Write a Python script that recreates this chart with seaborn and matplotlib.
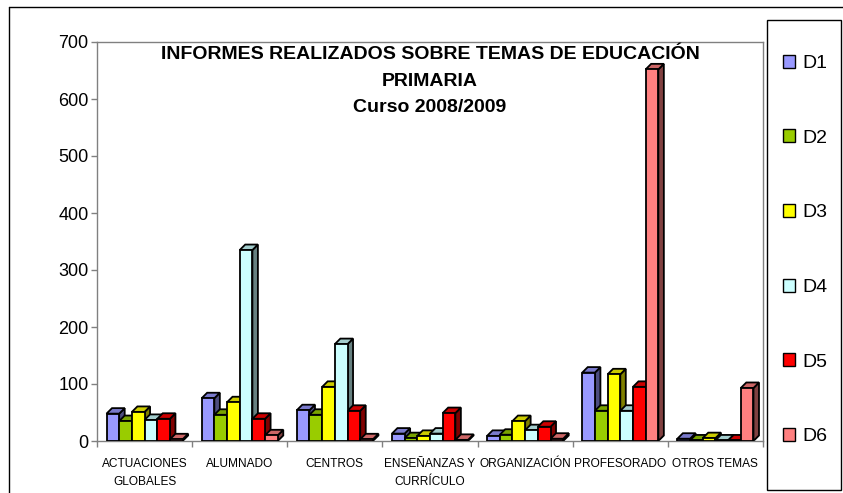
import numpy as np
import pandas as pd
import seaborn as sns
import matplotlib.pyplot as plt
from matplotlib.patches import Patch, Polygon, Rectangle
from matplotlib.lines import Line2D
from matplotlib.colors import to_rgb

# data
temas = ["ACTUACIONES\nGLOBALES", "ALUMNADO", "CENTROS", "ENSEÑANZAS Y\nCURRÍCULO",
         "ORGANIZACIÓN", "PROFESORADO", "OTROS TEMAS"]
series = ["D1", "D2", "D3", "D4", "D5", "D6"]
d1 = [48, 75, 54, 13, 9, 120, 4]
d2 = [35, 46, 46, 5, 11, 53, 1]
d3 = [51, 68, 95, 9, 35, 117, 5]
d4 = [37, 335, 170, 13, 19, 53, 1]
d5 = [39, 39, 53, 49, 25, 95, 1]
d6 = [3, 10, 3, 2, 4, 652, 93]
colores = ["#9999FF", "#99CC00", "#FFFF00", "#CCFFFF", "#FF0000", "#FF8080"]

df = pd.DataFrame({"tema": temas * 6,
                   "serie": np.repeat(series, len(temas)),
                   "n": d1 + d2 + d3 + d4 + d5 + d6})

sns.set_style("white")
plt.rcParams["font.family"] = ["Liberation Sans", "DejaVu Sans"]
plt.rcParams["text.color"] = "black"
plt.rcParams["xtick.labelcolor"] = "black"
plt.rcParams["ytick.labelcolor"] = "black"

fig = plt.figure(figsize=(8.43, 4.93), dpi=100)
ax = fig.add_axes([97 / 843, 1 - 441 / 493, 666 / 843, 399 / 493])

sns.barplot(data=df, x="tema", y="n", hue="serie", palette=colores, width=0.8,
            saturation=1, edgecolor="black", linewidth=1.3, legend=False, ax=ax, zorder=3)

ax.set_xlim(-0.5, len(temas) - 0.5)
ax.set_ylim(0, 700)
ax.set_yticks(range(0, 701, 100))
ax.set_xlabel("")
ax.set_ylabel("")

# fake 3D depth on each bar (top and side faces)
fig.canvas.draw()
px_x = ax.transData.transform((1, 0))[0] - ax.transData.transform((0, 0))[0]
px_y = ax.transData.transform((0, 100))[1] - ax.transData.transform((0, 0))[1]
dx = 5.5 / px_x
dy = 5.5 / (px_y / 100)
bars = sorted([p for p in ax.patches if isinstance(p, Rectangle)], key=lambda p: p.get_x())
for b in bars:
    x0, w, h = b.get_x(), b.get_width(), b.get_height()
    x1 = x0 + w
    c = np.array(to_rgb(b.get_facecolor()))
    top = Polygon([(x0, h), (x1, h), (x1 + dx, h + dy), (x0 + dx, h + dy)],
                  closed=True, facecolor=c * 0.8, edgecolor="black", lw=1.3, zorder=2)
    side = Polygon([(x1, 0), (x1 + dx, dy), (x1 + dx, h + dy), (x1, h)],
                   closed=True, facecolor=c * 0.5, edgecolor="black", lw=1.3, zorder=2)
    ax.add_patch(side)
    ax.add_patch(top)

for s in ax.spines.values():
    s.set_color("#808080")
    s.set_linewidth(1.0)

ax.tick_params(axis="y", direction="out", length=4, width=1, color="#808080",
               labelsize=13, pad=2, left=True)
ax.set_xticks(range(len(temas)))
ax.set_xticklabels(temas, fontsize=8.6, linespacing=1.75)
ax.set_xticks(np.arange(-0.5, len(temas), 1), minor=True)
ax.tick_params(axis="x", which="major", length=0, pad=12)
ax.tick_params(axis="x", which="minor", direction="out", length=4, width=1,
               color="#808080", bottom=True)

ax.text(0.5, 0.99, "INFORMES REALIZADOS SOBRE TEMAS DE EDUCACIÓN\nPRIMARIA\nCurso 2008/2009",
        transform=ax.transAxes, ha="center", va="top", fontsize=14,
        fontweight="bold", linespacing=1.75, zorder=5)

# chart border (top and left visible)
fig.add_artist(Line2D([9 / 843, 1], [1 - 7 / 493, 1 - 7 / 493], color="black",
                      lw=1.0, transform=fig.transFigure))
fig.add_artist(Line2D([9 / 843, 9 / 843], [0, 1 - 7 / 493], color="black",
                      lw=1.0, transform=fig.transFigure))

# legend box
fig.add_artist(Rectangle((767 / 843, 1 - 490 / 493), 74 / 843, 470 / 493,
                         transform=fig.transFigure, fill=False, edgecolor="black", lw=1.0))
handles = [Patch(facecolor=c, edgecolor="black", lw=1.0) for c in colores]
fig.legend(handles, series, loc="center", bbox_to_anchor=(805 / 843, 1 - 250 / 493),
           frameon=False, fontsize=14, handlelength=0.65, handleheight=0.65,
           handletextpad=0.35, labelspacing=2.95)

fig.savefig("out.png", dpi=100)
